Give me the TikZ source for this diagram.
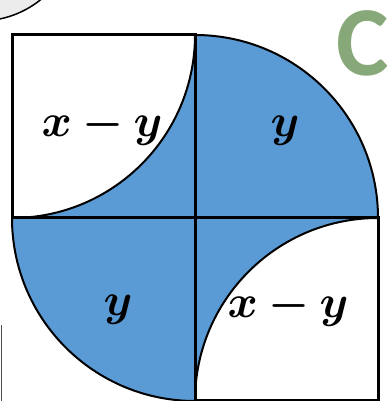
\RequirePackage{fix-cm}
\documentclass[tikz,border=0pt]{standalone}
\usepackage{fontspec}
\usepackage{bm}
\newfontfamily\cfont{Carlito}
\definecolor{qblue}{HTML}{5B9BD5}
\definecolor{qgreen}{HTML}{87A878}
\definecolor{qgray}{HTML}{ECECEC}
\begin{document}
\begin{tikzpicture}[x=1pt,y=1pt,
  fillblue/.style={fill=qblue},
  arcline/.style={draw=black,line width=2pt},
  gridline/.style={draw=black,line width=3pt,line cap=rect},
  lbl/.style={anchor=base,inner sep=0pt,font=\fontsize{46}{50}\selectfont}]
\useasboundingbox (0,0) rectangle (388,401);
\begin{scope}
\clip (0,0) rectangle (388,401);
% key points
\coordinate (c) at (195,183);
\coordinate (tl) at (12,366);
\coordinate (br) at (378,0);
% gray circle at corner
\fill[qgray] (-20,477) circle[radius=97];
\draw[line width=1.5pt] (-20,477) circle[radius=97];
% blue quarter disks
\fill[fillblue] (c) -- (378,183) arc[start angle=0,end angle=90,radius=183] -- cycle;
\fill[fillblue] (c) -- (12,183) arc[start angle=180,end angle=270,radius=183] -- cycle;
% top-left box
\fill[fillblue] (12,183) rectangle (195,366);
\fill[white] (tl) -- (195,366) arc[start angle=0,end angle=-90,radius=183] -- cycle;
% bottom-right box
\fill[fillblue] (195,0) rectangle (378,183);
\fill[white] (br) -- (195,0) arc[start angle=180,end angle=90,radius=183] -- cycle;
% arcs
\draw[arcline] (195,366) arc[start angle=0,end angle=-90,radius=183];
\draw[arcline] (195,0) arc[start angle=180,end angle=90,radius=183];
\draw[arcline] (378,183) arc[start angle=0,end angle=90,radius=183];
\draw[arcline] (12,183) arc[start angle=180,end angle=270,radius=183];
% grid lines
\draw[gridline] (195,366) -- (195,0);
\draw[gridline] (12,183) -- (378,183);
\draw[gridline] (195,366) -- (tl) -- (12,183);
\draw[gridline] (195,0.5) -- (378,0.5) -- (378,183);
% left edge line
\draw[draw=black!70,line width=1.2pt] (1.5,0) -- (1.5,76);
% green C
\node[anchor=base west,inner sep=0pt,text=qgreen,font=\cfont\bfseries\fontsize{99}{100}\selectfont] (cc) at (336,325) {C};
\end{scope}
% labels
\node[lbl] (l1) at (102,264) {$\bm{x-y}$};
\node[lbl] (l2) at (285,264) {$\bm{y}$};
\node[lbl] (l3) at (118,85) {$\bm{y}$};
\node[lbl] (l4) at (288,83) {$\bm{x-y}$};
\end{tikzpicture}
\end{document}
